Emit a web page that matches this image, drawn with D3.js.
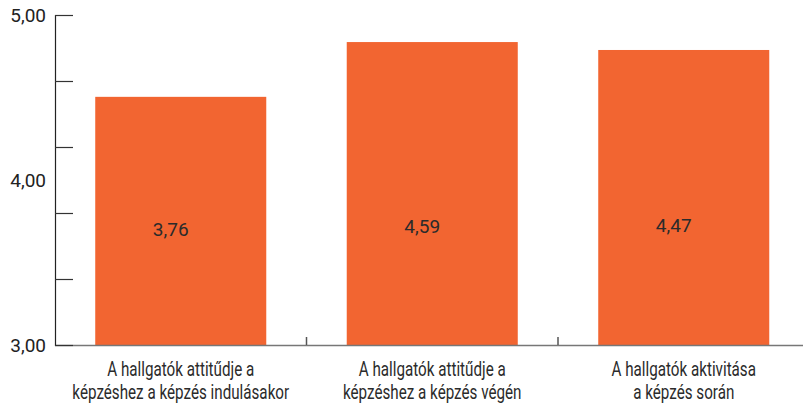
<!DOCTYPE html>
<html>
<head>
<meta charset="utf-8">
<script src="https://cdn.jsdelivr.net/npm/d3@7"></script>
<style>
  html, body { margin: 0; padding: 0; background: #fff; }
  svg { display: block; }
</style>
</head>
<body>
<svg id="chart" width="803" height="405"></svg>
<script>
// Category labels (two lines each)
const categories = [
  ["A hallgatók attitűdje a", "képzéshez a képzés indulásakor"],
  ["A hallgatók attitűdje a", "képzéshez a képzés végén"],
  ["A hallgatók aktivitása", "a képzés során"]
];
// Mean scores
const values = [3.76, 4.59, 4.47];
// Value labels as printed
const valueLabels = ["3,76", "4,59", "4,47"];
// Y axis labels
const yTickValues = [3, 4, 5];
const yTickLabels = ["3,00", "4,00", "5,00"];
// Axis tick marks
const yTickMarks = [0, 1, 2, 3, 4, 5];

const svg = d3.select("#chart");
const plotLeft = 55, plotRight = 809.5, plotTop = 15, plotBottom = 345;

const x = d3.scaleBand()
  .domain(d3.range(categories.length))
  .range([plotLeft, plotRight])
  .paddingInner(0.32)
  .paddingOuter(0.16);

const y = d3.scaleLinear().domain([0, 5]).range([plotBottom, plotTop]);
// scale used for the printed axis labels
const yLab = d3.scaleLinear().domain([3, 5]).range([plotBottom, plotTop]);

const step = x.step();

// Bars
svg.append("g").selectAll("rect")
  .data(values)
  .join("rect")
  .attr("x", (d, i) => x(i))
  .attr("y", d => y(d))
  .attr("width", x.bandwidth())
  .attr("height", d => plotBottom - y(d))
  .attr("fill", "#F26531");

// Value labels
svg.append("g").selectAll("text")
  .data(values)
  .join("text")
  .attr("x", (d, i) => x(i) + x.bandwidth() / 2 - 10)
  .attr("y", (d, i) => [236, 233, 232][i])
  .attr("text-anchor", "middle")
  .attr("font-family", "Roboto, 'Liberation Sans', Arial, sans-serif")
  .attr("font-size", 19)
  .attr("fill", "#2b2b2b")
  .text((d, i) => valueLabels[i]);

// Bottom axis line
svg.append("line")
  .attr("x1", plotLeft).attr("x2", 803)
  .attr("y1", plotBottom + 0.5).attr("y2", plotBottom + 0.5)
  .attr("stroke", "#777").attr("stroke-width", 1.5);

// Category separators
svg.append("g").selectAll("line")
  .data(d3.range(1, categories.length))
  .join("line")
  .attr("x1", i => plotLeft + step * i)
  .attr("x2", i => plotLeft + step * i)
  .attr("y1", plotBottom - 8).attr("y2", plotBottom)
  .attr("stroke", "#555").attr("stroke-width", 1.5);

// Y axis line
svg.append("line")
  .attr("x1", plotLeft + 0.5).attr("x2", plotLeft + 0.5)
  .attr("y1", plotTop).attr("y2", plotBottom + 1)
  .attr("stroke", "#222").attr("stroke-width", 1.2);

// Y axis tick marks
svg.append("g").selectAll("line")
  .data(yTickMarks)
  .join("line")
  .attr("x1", plotLeft).attr("x2", plotLeft + 18)
  .attr("y1", d => Math.round(y(d)) + 0.5)
  .attr("y2", d => Math.round(y(d)) + 0.5)
  .attr("stroke", "#333").attr("stroke-width", 1.2);

// Y axis labels
svg.append("g").selectAll("text")
  .data(yTickValues)
  .join("text")
  .attr("x", 46)
  .attr("y", d => yLab(d) + 7)
  .attr("text-anchor", "end")
  .attr("font-family", "Roboto, 'Liberation Sans', Arial, sans-serif")
  .attr("font-size", 19)
  .attr("fill", "#222")
  .text((d, i) => yTickLabels[i]);

// Category labels, set in a horizontally condensed face
const cat = svg.append("g").selectAll("text")
  .data(categories)
  .join("text")
  .attr("transform", (d, i) => `translate(${x(i) + x.bandwidth() / 2},0) scale(0.76,1)`)
  .attr("text-anchor", "middle")
  .attr("font-family", "Roboto, 'Liberation Sans', sans-serif")
  .attr("font-size", 20)
  .attr("fill", "#2b2b2b");
cat.each(function(lines) {
  const t = d3.select(this);
  lines.forEach((ln, k) => {
    t.append("tspan")
      .attr("x", 0)
      .attr("y", 376 + k * 23)
      .text(ln);
  });
});
</script>
</body>
</html>
